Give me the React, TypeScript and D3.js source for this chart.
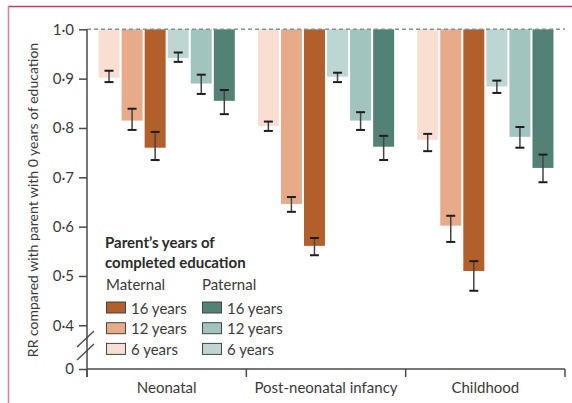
import { useEffect, useRef } from 'react'
import * as d3 from 'd3'

const categories = ['Neonatal', 'Post-neonatal infancy', 'Childhood']
const seriesKeys = ['m6', 'm12', 'm16', 'p6', 'p12', 'p16']
const seriesColors = ['#f8dfd2', '#e8ab89', '#b35f2b', '#bdd6d3', '#a2c4be', '#548175']
const seriesLabels = ['6 years', '12 years', '16 years', '6 years', '12 years', '16 years']

// RR per series, one value per category
const rrValues = [
  [0.902, 0.804, 0.776],
  [0.815, 0.646, 0.602],
  [0.76, 0.561, 0.51],
  [0.942, 0.904, 0.884],
  [0.89, 0.815, 0.782],
  [0.855, 0.762, 0.719],
]
const rrLower = [
  [0.893, 0.794, 0.753],
  [0.796, 0.63, 0.569],
  [0.735, 0.542, 0.47],
  [0.934, 0.893, 0.871],
  [0.869, 0.796, 0.76],
  [0.828, 0.735, 0.69],
]
const rrUpper = [
  [0.916, 0.813, 0.788],
  [0.839, 0.66, 0.622],
  [0.792, 0.577, 0.53],
  [0.953, 0.912, 0.896],
  [0.908, 0.832, 0.802],
  [0.877, 0.784, 0.746],
]
const yTicks = [0, 0.4, 0.5, 0.6, 0.7, 0.8, 0.9, 1.0]

const FONT = 'Lato, "Noto Sans", sans-serif'
const TEXT = '#3a3a3a'
const AXIS = '#4a4a4a'

export default function App() {
  const svgRef = useRef<SVGSVGElement>(null)

  useEffect(() => {
    const svgEl = svgRef.current
    if (!svgEl) return
    const width = 572
    const height = 403
    const svg = d3.select(svgEl)
    svg.attr('width', width).attr('height', height).selectAll('*').remove()

    const left = 87
    const right = 565
    const zeroY = 369

    // broken axis: 0 sits below the 0.4–1.0 range
    const y = d3.scaleLinear().domain([0, 0.4, 1.0]).range([zeroY, 325.3, 29.3])
    const x0 = d3.scaleBand<string>().domain(categories).range([left, right]).padding(0)
    const x1 = d3.scaleBand<string>().domain(seriesKeys).range([0, x0.bandwidth()])
      .paddingInner(0.09).paddingOuter(0.5)

    // frame
    svg.append('line').attr('x1', 8).attr('x2', width).attr('y1', 6.5).attr('y2', 6.5)
      .style('stroke', '#d63464').style('stroke-width', 1.5)
    svg.append('line').attr('x1', 8.5).attr('x2', 8.5).attr('y1', 6).attr('y2', height)
      .style('stroke', '#e07ca0').style('stroke-width', 1.5)

    // bars
    const groups = svg.append('g')
    seriesKeys.forEach((key, si) => {
      categories.forEach((cat, ci) => {
        const bx = x0(cat)! + x1(key)!
        const v = rrValues[si][ci]
        groups.append('rect')
          .attr('x', bx)
          .attr('y', y(1))
          .attr('width', x1.bandwidth())
          .attr('height', y(v) - y(1))
          .style('fill', seriesColors[si])
      })
    })

    // reference line at 1.0
    svg.append('line')
      .attr('x1', left).attr('x2', right).attr('y1', y(1)).attr('y2', y(1))
      .style('stroke', '#7f9398').style('stroke-width', 1.5).style('stroke-dasharray', '4 3')

    // error bars
    const err = svg.append('g')
    seriesKeys.forEach((key, si) => {
      categories.forEach((cat, ci) => {
        const cx = x0(cat)! + x1(key)! + x1.bandwidth() / 2
        const lo = y(rrLower[si][ci])
        const hi = y(rrUpper[si][ci])
        err.append('line').attr('x1', cx).attr('x2', cx).attr('y1', hi).attr('y2', lo)
          .style('stroke', '#444').style('stroke-width', 1.5)
        ;[lo, hi].forEach(yy => {
          err.append('line').attr('x1', cx - 4.5).attr('x2', cx + 4.5).attr('y1', yy).attr('y2', yy)
            .style('stroke', '#1e1e1e').style('stroke-width', 2)
        })
      })
    })

    // Y axis
    const yAxisG = svg.append('g').attr('transform', `translate(${left},0)`)
    yAxisG.call(
      d3.axisLeft(y).tickValues(yTicks).tickSize(8).tickPadding(5)
        .tickFormat(d => (+d === 0 ? '0' : d3.format('.1f')(+d).replace('.', '·'))),
    )
    yAxisG.select('.domain').remove()
    yAxisG.selectAll('.tick line').style('stroke', AXIS).style('stroke-width', 1.5)
    yAxisG.selectAll('text').style('fill', TEXT).style('font-size', '15px').style('font-family', FONT)

    svg.append('line').attr('x1', left).attr('x2', left).attr('y1', y(1)).attr('y2', zeroY + 8)
      .style('stroke', AXIS).style('stroke-width', 1.5)

    // break marks
    ;[0, 13].forEach(dy => {
      svg.append('line').attr('x1', 77).attr('x2', 94).attr('y1', 347 + dy).attr('y2', 331 + dy)
        .style('stroke', AXIS).style('stroke-width', 1.3)
    })

    // X axis
    svg.append('line').attr('x1', left).attr('x2', right).attr('y1', zeroY).attr('y2', zeroY)
      .style('stroke', AXIS).style('stroke-width', 1.5)
    const bounds = [...categories.map(c => x0(c)!), right]
    bounds.forEach(bx => {
      svg.append('line').attr('x1', bx).attr('x2', bx).attr('y1', zeroY).attr('y2', zeroY + 8)
        .style('stroke', AXIS).style('stroke-width', 1.5)
    })
    categories.forEach(c => {
      svg.append('text')
        .attr('x', x0(c)! + x0.bandwidth() / 2)
        .attr('y', 393)
        .attr('text-anchor', 'middle')
        .style('fill', TEXT).style('font-size', '15px').style('font-family', FONT)
        .text(c)
    })

    // Y axis title
    svg.append('text')
      .attr('transform', 'translate(38,200) rotate(-90)')
      .attr('text-anchor', 'middle')
      .style('fill', TEXT).style('font-size', '14px').style('font-family', FONT)
      .text('RR compared with parent with 0 years of education')

    // legend
    const lg = svg.append('g')
    ;['Parent’s years of', 'completed education'].forEach((t, i) => {
      lg.append('text').attr('x', 105).attr('y', 248 + i * 20)
        .style('fill', '#2a2a2a').style('font-size', '15px').style('font-weight', 'bold')
        .style('font-family', FONT).text(t)
    })
    const colX = [106, 202]
    ;['Maternal', 'Paternal'].forEach((t, i) => {
      lg.append('text').attr('x', colX[i]).attr('y', 290)
        .style('fill', TEXT).style('font-size', '15px').style('font-family', FONT).text(t)
    })
    const rowOrder = [2, 1, 0]
    ;[0, 1].forEach(col => {
      rowOrder.forEach((s, row) => {
        const si = col * 3 + s
        const ry = 302 + row * 20.7
        lg.append('rect').attr('x', colX[col] + 0.5).attr('y', ry).attr('width', 19).attr('height', 11)
          .style('fill', seriesColors[si]).style('stroke', '#444').style('stroke-width', 1)
        lg.append('text').attr('x', colX[col] + 25).attr('y', ry + 11.5)
          .style('fill', TEXT).style('font-size', '15px').style('font-family', FONT)
          .text(seriesLabels[si])
      })
    })
  }, [])

  return (
    <div style={{ position: 'absolute', left: 0, top: 0, background: '#fff' }}>
      <svg ref={svgRef} style={{ display: 'block' }} />
    </div>
  )
}
